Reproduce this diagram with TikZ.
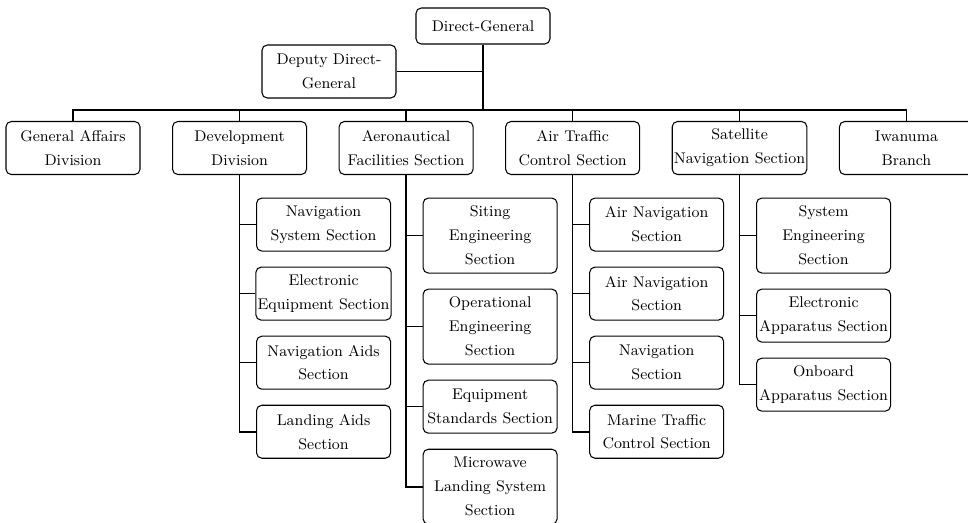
\documentclass[tikz,border=0pt]{standalone}
\usepackage{tikz}
\usetikzlibrary{positioning,calc}

\begin{document}
\begin{tikzpicture}[
  node distance=0.30cm and 0.63cm,
  orgbox/.style={draw, line width=0.6pt, rounded corners=3pt, minimum width=2.68cm,
                 minimum height=1.06cm, inner xsep=1pt, align=center,
                 font=\fontsize{8.8}{13.6}\selectfont},
  tallbox/.style={orgbox, minimum height=1.5cm},
  link/.style={line width=0.9pt}
]
  \useasboundingbox (0,0) rectangle (19.36,-10.44);

  % head office
  \node[orgbox, minimum height=0.72cm] (dg) at (9.66,-0.52) {Direct-General};
  \node[orgbox] (dep) at (6.58,-1.43) {Deputy Direct-\\General};
  \coordinate (bus) at (9.66,-2.2);

  % divisions
  \node[orgbox] (ga) at (1.46,-2.96) {General Affairs\\Division};
  \node[orgbox, right=of ga] (dev) {Development\\Division};
  \node[orgbox, right=of dev] (aero) {Aeronautical\\Facilities Section};
  \node[orgbox, right=of aero] (atc) {Air Traffic\\Control Section};
  \node[orgbox, right=of atc] (sat) {Satellite\\Navigation Section};
  \node[orgbox, right=of sat] (iw) {Iwanuma\\Branch};

  % development division
  \node[orgbox, anchor=north] (nss) at ($(dev.south)+(1.68,-0.45)$) {Navigation\\System Section};
  \node[orgbox, below=of nss] (ees) {Electronic\\Equipment Section};
  \node[orgbox, below=of ees] (nas) {Navigation Aids\\Section};
  \node[orgbox, below=of nas] (las) {Landing Aids\\Section};

  % aeronautical facilities
  \node[tallbox, anchor=north] (ses) at ($(aero.south)+(1.68,-0.45)$) {Siting\\Engineering\\Section};
  \node[tallbox, below=of ses] (oes) {Operational\\Engineering\\Section};
  \node[orgbox, below=of oes] (ess) {Equipment\\Standards Section};
  \node[tallbox, below=of ess] (mls) {Microwave\\Landing System\\Section};

  % air traffic control
  \node[orgbox, anchor=north] (ans1) at ($(atc.south)+(1.68,-0.45)$) {Air Navigation\\Section};
  \node[orgbox, below=of ans1] (ans2) {Air Navigation\\Section};
  \node[orgbox, below=of ans2] (nvs) {Navigation\\Section};
  \node[orgbox, below=of nvs] (mtc) {Marine Traffic\\Control Section};

  % satellite navigation
  \node[tallbox, anchor=north] (sys) at ($(sat.south)+(1.68,-0.45)$) {System\\Engineering\\Section};
  \node[orgbox, below=of sys] (eas) {Electronic\\Apparatus Section};
  \node[orgbox, below=of eas] (oas) {Onboard\\Apparatus Section};

  % top links
  \draw[link] (dg.south) -- (bus);
  \draw[link] (dep.east) -- (dep.east -| dg.south);
  \draw[link] (ga.north) |- (bus) -| (iw.north);
  \foreach \p in {dev,aero,atc,sat}
    \draw[link] (\p.north) -- (\p.north |- bus);

  % section links
  \draw[link] (dev.south) |- (las.west);
  \foreach \c in {nss,ees,nas}
    \draw[link] (dev.south |- \c.west) -- (\c.west);
  \draw[link] (aero.south) |- (mls.west);
  \foreach \c in {ses,oes,ess}
    \draw[link] (aero.south |- \c.west) -- (\c.west);
  \draw[link] (atc.south) |- (mtc.west);
  \foreach \c in {ans1,ans2,nvs}
    \draw[link] (atc.south |- \c.west) -- (\c.west);
  \draw[link] (sat.south) |- (oas.west);
  \draw[link] (sat.south |- sys.west) -- (sys.west);
  \draw[link] (sat.south |- eas.west) -- (eas.west);
\end{tikzpicture}
\end{document}
